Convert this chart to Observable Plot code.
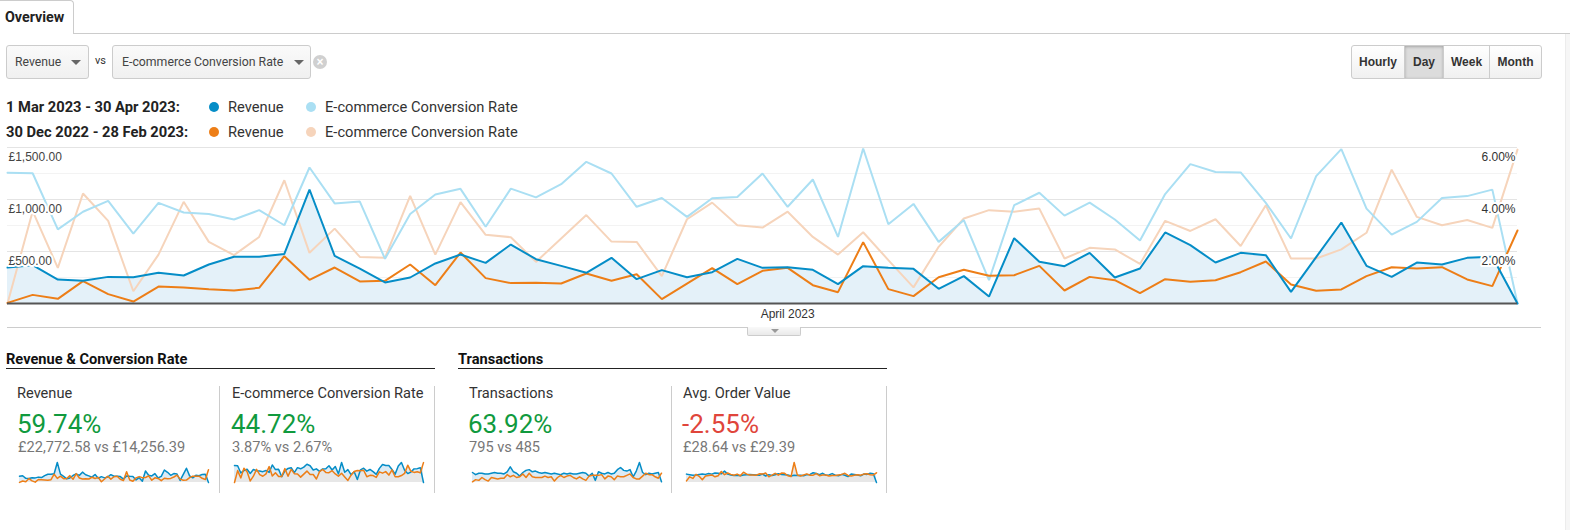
<!DOCTYPE html>
<html><head><meta charset="utf-8">
<script src="https://cdn.jsdelivr.net/npm/d3@7"></script>
<script src="https://cdn.jsdelivr.net/npm/@observablehq/plot@0.6"></script>
<style>
body{margin:0;background:#fff;font-family:Roboto,"Liberation Sans",Arial,sans-serif;width:1570px;height:530px;position:relative;overflow:hidden;color:#222;}
.a{position:absolute;white-space:nowrap;line-height:1;}
.box{position:absolute;border:1px solid #ccc;border-radius:3px;background:linear-gradient(#fafafa,#f0f0f0);box-sizing:border-box;}
.tri{position:absolute;width:0;height:0;border-left:5px solid transparent;border-right:5px solid transparent;border-top:5px solid #666;}
.btn{position:absolute;top:45px;height:34px;box-sizing:border-box;border:1px solid #ccc;background:linear-gradient(#fff,#f0f0f0);font:bold 12px "Liberation Sans",Arial,sans-serif;color:#333;display:flex;align-items:center;justify-content:center;}
.dot{position:absolute;width:10px;height:10px;border-radius:50%;}
.sec{position:absolute;font-weight:bold;font-size:14.6px;line-height:1;white-space:nowrap;color:#111;}
.rule{position:absolute;height:1px;background:#222;}
.vsep{position:absolute;width:1px;background:#ccc;top:386px;height:107px;}
.ct{font-size:14.6px;color:#333;}
.big{font-size:26px;}
.sub{font-size:14.6px;color:#777;}
.lg{font-size:14.7px;color:#333;}
</style></head><body>

<!-- tab -->
<div style="position:absolute;left:-1px;top:0;width:75px;height:34px;box-sizing:border-box;border:1px solid #ccc;border-bottom:none;border-top-right-radius:4px;background:#fff;"></div>
<div style="position:absolute;left:74px;top:33px;width:1496px;height:1px;background:#ccc;"></div>
<div class="a" style="left:5px;top:10px;font-size:14.3px;font-weight:bold;color:#222;">Overview</div>
<div style="position:absolute;left:1565px;top:34px;width:5px;height:496px;background:#f6f6f6;border-left:1px solid #ececec;"></div>

<!-- selectors -->
<div class="box" style="left:6px;top:45px;width:83px;height:34px;"></div>
<div class="a" style="left:15px;top:56px;font-size:12.2px;color:#444;">Revenue</div>
<div class="tri" style="left:71px;top:60px;"></div>
<div class="a" style="left:95px;top:55px;font-size:11px;color:#333;">vs</div>
<div class="box" style="left:112px;top:45px;width:199px;height:34px;"></div>
<div class="a" style="left:122px;top:56px;font-size:12.3px;color:#444;">E-commerce Conversion Rate</div>
<div class="tri" style="left:294px;top:60px;"></div>
<div style="position:absolute;left:313px;top:55px;width:14px;height:14px;border-radius:50%;background:#d0d0d0;color:#fff;font:bold 12px/14px Arial,sans-serif;text-align:center;">×</div>

<!-- granularity buttons -->
<div class="btn" style="left:1351px;width:54px;border-radius:3px 0 0 3px;">Hourly</div>
<div class="btn" style="left:1404px;width:40px;background:#dcdcdc;box-shadow:inset 0 1px 3px rgba(0,0,0,0.25);">Day</div>
<div class="btn" style="left:1443px;width:47px;">Week</div>
<div class="btn" style="left:1489px;width:53px;border-radius:0 3px 3px 0;">Month</div>

<!-- legend -->
<div class="a" style="left:6px;top:100px;font-size:14.7px;font-weight:bold;color:#222;">1 Mar 2023 - 30 Apr 2023:</div>
<div class="dot" style="left:209px;top:102px;background:#058dc7;"></div>
<div class="a lg" style="left:228px;top:100px;">Revenue</div>
<div class="dot" style="left:306px;top:102px;background:#aadff3;"></div>
<div class="a lg" style="left:325px;top:100px;">E-commerce Conversion Rate</div>
<div class="a" style="left:6px;top:125px;font-size:14.7px;font-weight:bold;color:#222;">30 Dec 2022 - 28 Feb 2023:</div>
<div class="dot" style="left:209px;top:127px;background:#ed7e17;"></div>
<div class="a lg" style="left:228px;top:125px;">Revenue</div>
<div class="dot" style="left:306px;top:127px;background:#f6d4bb;"></div>
<div class="a lg" style="left:325px;top:125px;">E-commerce Conversion Rate</div>

<div id="main" style="position:absolute;left:0;top:140px;"></div>
<div style="position:absolute;left:7px;top:327px;width:1534px;height:1px;background:#ccc;"></div>
<div style="position:absolute;left:747px;top:327px;width:54px;height:9px;box-sizing:border-box;border:1px solid #ccc;border-top:none;border-radius:0 0 2px 2px;background:linear-gradient(#f9f9f9,#e9e9e9);"></div>
<div style="position:absolute;left:771px;top:329px;width:0;height:0;border-left:4px solid transparent;border-right:4px solid transparent;border-top:4px solid #999;"></div>

<!-- scorecards -->
<div class="sec" style="left:6px;top:352px;">Revenue &amp; Conversion Rate</div>
<div class="rule" style="left:6px;top:368px;width:429px;"></div>
<div class="sec" style="left:458px;top:352px;">Transactions</div>
<div class="rule" style="left:458px;top:368px;width:429px;"></div>

<div class="a ct" style="left:17px;top:386px;">Revenue</div>
<div class="a big" style="left:17px;top:411px;color:#109a3e;">59.74%</div>
<div class="a sub" style="left:18px;top:440px;">£22,772.58 vs £14,256.39</div>
<div class="vsep" style="left:219px;"></div>
<div class="a ct" style="left:232px;top:386px;">E-commerce Conversion Rate</div>
<div class="a big" style="left:231px;top:411px;color:#109a3e;">44.72%</div>
<div class="a sub" style="left:232px;top:440px;">3.87% vs 2.67%</div>
<div class="vsep" style="left:434px;"></div>

<div class="a ct" style="left:469px;top:386px;">Transactions</div>
<div class="a big" style="left:468px;top:411px;color:#109a3e;">63.92%</div>
<div class="a sub" style="left:469px;top:440px;">795 vs 485</div>
<div class="vsep" style="left:671px;"></div>
<div class="a ct" style="left:683px;top:386px;">Avg. Order Value</div>
<div class="a big" style="left:682px;top:411px;color:#e0453b;">-2.55%</div>
<div class="a sub" style="left:683px;top:440px;">£28.64 vs £29.39</div>
<div class="vsep" style="left:886px;"></div>

<div id="sp1" style="position:absolute;left:19px;top:461px;"></div>
<div id="sp2" style="position:absolute;left:234px;top:461px;"></div>
<div id="sp3" style="position:absolute;left:472px;top:461px;"></div>
<div id="sp4" style="position:absolute;left:686px;top:461px;"></div>

<script>
// ---- data ----
const startDate = new Date(Date.UTC(2023, 2, 1));
const endDateExclusive = new Date(Date.UTC(2023, 4, 1));
const dates = d3.utcDay.range(startDate, endDateExclusive); // 1 Mar - 30 Apr 2023
const aprilDate = new Date(Date.UTC(2023, 3, 1));

const revenueCur = [345,368,230,218,256,253,295,269,375,449, 449,477,1096,458,336,202,250,385,471,391, 567,426,362,295,439,234,321,253,301,429, 343,349,324,186,359,343,333,141,263,67, 628,401,359,487,250,337,683,561,394,487, 465,112,446,779,362,256,394,375,439,449, 0];
const revenuePrev = [6,83,45,215,90,19,163,154,138,125, 151,455,228,346,212,218,375,176,490,244, 196,199,192,288,218,282,42,192,340,186, 314,343,176,109,590,138,71,253,324,266, 272,362,125,256,224,99,234,208,224,301, 404,183,122,135,263,349,336,349,231,167, 702];
const rateCur = [5.03,5.01,2.85,3.53,3.95,2.69,3.87,3.50,3.44,3.23, 3.59,3.01,5.23,3.85,3.92,1.72,3.44,4.19,4.41,2.95, 4.42,4.08,4.59,5.45,5.00,3.72,4.06,3.33,4.05,4.10, 5.00,3.72,4.77,2.56,5.96,3.05,3.83,2.37,3.21,0.90, 3.78,4.26,3.38,3.88,3.23,2.42,4.21,5.36,5.06,5.04, 3.87,2.50,4.90,5.94,3.65,2.65,3.14,4.06,4.13,4.38, 0];
const ratePrev = [0,3.55,1.37,4.23,3.18,0.47,1.88,3.91,2.37,1.86, 2.56,4.74,1.95,2.88,1.79,1.76,4.14,1.88,3.90,2.64, 2.55,1.60,2.50,3.40,2.38,2.37,1.05,3.24,3.88,3.01, 2.92,3.53,2.56,1.88,2.74,1.67,0.62,2.18,3.27,3.59, 3.53,3.65,1.73,2.14,2.08,1.52,3.18,2.79,3.24,2.21, 3.78,1.73,1.73,2.08,2.72,5.15,3.33,3.01,3.21,2.91, 5.92];

const transactionsCur = [14,11,13,13,12,12,13,14,13,13, 12,15,22,15,13,9,14,17,18,15, 16,14,13,14,13,12,13,12,11,13, 12,13,12,12,13,14,13,9,13,3, 15,13,12,14,12,13,18,21,17,16, 18,8,16,28,14,11,13,12,13,14, 1];
const transactionsPrev = [1,4,3,7,4,2,7,6,5,6, 6,11,8,10,7,8,12,7,13,8, 7,7,7,9,7,8,2,7,10,7, 9,10,7,5,8,5,3,9,10,10, 10,11,5,9,8,4,9,8,8,10, 12,7,5,5,9,13,11,11,8,6, 13];
const aovCur = [31,29,27,28,30,31,30,33,31,35, 34,32,42,31,28,26,27,25,28,29, 30,29,28,27,31,24,29,26,29,32, 30,29,28,24,27,26,27,25,29,30, 36,33,29,34,27,28,33,27,25,30, 27,22,31,30,28,25,31,30,34,32, 0];
const aovPrev = [6,21,15,30,23,10,24,26,28,21, 25,41,29,35,30,27,31,25,38,31, 28,28,27,32,31,35,21,27,34,27, 35,34,25,22,74,28,24,28,32,27, 27,33,25,28,28,24,26,26,28,30, 34,26,24,27,29,27,31,32,29,28, 36];

const revTicks = [500, 1000, 1500];
const revMinor = [250, 750, 1250];
const rateTicks = [2, 4, 6];

// ---- colours ----
const C = {blue:"#058dc7", lightBlue:"#aadff3", orange:"#ed7e17", peach:"#f6d4bb", fill:"#e4f1f9"};

const cur = dates.map((d, i) => ({date: d, rev: revenueCur[i], rate: rateCur[i]}));
const prev = dates.map((d, i) => ({date: d, rev: revenuePrev[i], rate: ratePrev[i]}));
const k = 1500 / 6; // right axis (%) shares the frame with left axis (£)

const main = Plot.plot({
  width: 1540, height: 185,
  marginLeft: 7, marginRight: 23, marginTop: 7, marginBottom: 22,
  x: {type: "utc", domain: [dates[0], dates[dates.length - 1]], axis: null},
  y: {domain: [0, 1500], axis: null},
  style: {fontFamily: "'Liberation Sans', Arial, sans-serif", fontSize: "12px", background: "transparent", overflow: "visible"},
  marks: [
    Plot.ruleY(revMinor, {stroke: "#f3f3f3"}),
    Plot.ruleY(revTicks, {stroke: "#e4e4e4"}),
    Plot.areaY(cur, {x: "date", y: "rev", fill: C.fill}),
    Plot.lineY(prev, {x: "date", y: d => d.rate * k, stroke: C.peach, strokeWidth: 2, strokeLinejoin: "miter"}),
    Plot.lineY(cur, {x: "date", y: d => d.rate * k, stroke: C.lightBlue, strokeWidth: 2, strokeLinejoin: "miter"}),
    Plot.lineY(prev, {x: "date", y: "rev", stroke: C.orange, strokeWidth: 2, strokeLinejoin: "miter"}),
    Plot.lineY(cur, {x: "date", y: "rev", stroke: C.blue, strokeWidth: 2, strokeLinejoin: "miter"}),
    Plot.ruleY([0], {stroke: "#555", strokeWidth: 2}),
    Plot.text(revTicks, {y: d => d, frameAnchor: "left", dx: 1, dy: 9.5, textAnchor: "start",
      text: d => "£" + d3.format(",.2f")(d), fill: "#444", stroke: "white", strokeWidth: 4}),
    Plot.text(rateTicks, {y: d => d * k, frameAnchor: "right", dx: -2, dy: 9.5, textAnchor: "end",
      text: d => d.toFixed(2) + "%", fill: "#333", stroke: "white", strokeWidth: 4}),
    Plot.text([aprilDate], {x: d => d, frameAnchor: "bottom", dy: 14.5, text: () => "April 2023", fill: "#333"})
  ]
});
document.getElementById("main").appendChild(main);

function spark(id, a, b, w) {
  const max = d3.max([...a, ...b]);
  const p = Plot.plot({
    width: w, height: 22, marginTop: 1, marginBottom: 1, marginLeft: 0, marginRight: 0,
    x: {type: "utc", domain: [dates[0], dates[dates.length - 1]], axis: null},
    y: {domain: [0, max], axis: null},
    style: {background: "transparent", overflow: "visible"},
    marks: [
      Plot.areaY(a, {x: dates, y: d => d, fill: "#dcebf5"}),
      Plot.areaY(b, {x: dates, y: d => d, fill: "#e7e7e7"}),
      Plot.lineY(a, {x: dates, y: d => d, stroke: C.blue, strokeWidth: 1.5}),
      Plot.lineY(b, {x: dates, y: d => d, stroke: C.orange, strokeWidth: 1.5})
    ]
  });
  document.getElementById(id).appendChild(p);
}
spark("sp1", revenueCur, revenuePrev, 189);
spark("sp2", rateCur, ratePrev, 189);
spark("sp3", transactionsCur, transactionsPrev, 189);
spark("sp4", aovCur, aovPrev, 190);
</script>
</body></html>
